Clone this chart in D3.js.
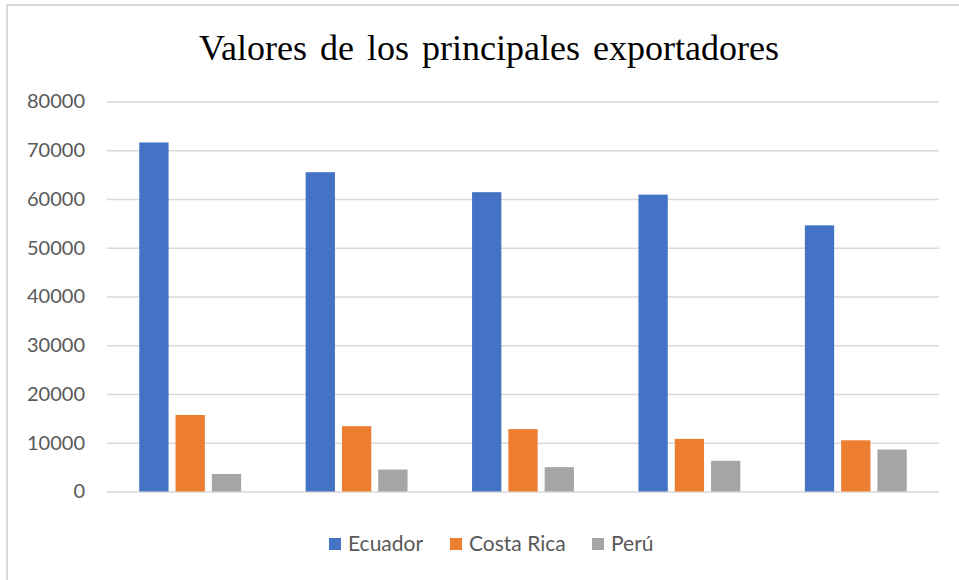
<!DOCTYPE html>
<html>
<head>
<meta charset="utf-8">
<script src="https://cdn.jsdelivr.net/npm/d3@7"></script>
<style>
  body { margin: 0; background: #fff; }
  .axis text { font-family: Lato, "Liberation Sans", sans-serif; font-size: 20px; fill: #595959; }
</style>
</head>
<body>
<script>
// data (x axis has no labels in the original)
var categories = ["1", "2", "3", "4", "5"];
var series = ["Ecuador", "Costa Rica", "Perú"];
var ecuador = [71600, 65500, 61400, 60900, 54600];
var costaRica = [15700, 13400, 12800, 10800, 10500];
var peru = [3600, 4500, 5000, 6300, 8600];
var yTicks = [0, 10000, 20000, 30000, 40000, 50000, 60000, 70000, 80000];
var colors = ["#4472c4", "#ed7d31", "#a5a5a5"];

var W = 959, H = 580;
var margin = {top: 101.5, right: 20, bottom: 88.5, left: 107},
    width = 939 - margin.left,
    height = H - margin.top - margin.bottom;

var svg = d3.select("body").append("svg")
    .attr("width", W)
    .attr("height", H);

// chart frame (cut off on the right and bottom in the original)
svg.append("rect")
    .attr("x", 7).attr("y", 5)
    .attr("width", W + 20).attr("height", H + 20)
    .attr("fill", "none")
    .attr("stroke", "#d9d9d9")
    .attr("stroke-width", 2);

svg.append("text")
    .attr("x", 489)
    .attr("y", 60)
    .attr("text-anchor", "middle")
    .style("font-family", "'Liberation Serif', 'Times New Roman', serif")
    .style("font-size", "36px")
    .style("word-spacing", "4px")
    .attr("fill", "#000")
    .text("Valores de los principales exportadores");

var g = svg.append("g")
    .attr("transform", "translate(" + margin.left + "," + margin.top + ")");

var x0 = d3.scaleBand().domain(categories).range([0, width]).padding(0);
var x1 = d3.scaleBand().domain(series).range([0, x0.bandwidth()])
    .paddingInner(0.193).paddingOuter(0.889);
var y = d3.scaleLinear().domain([0, 80000]).range([height, 0]);

// gridlines + y labels
var yAxis = d3.axisLeft(y).tickValues(yTicks).tickSize(-width).tickPadding(22)
    .tickFormat(d3.format("d"));
g.append("g")
    .attr("class", "axis")
    .call(yAxis)
    .call(function(a) {
        a.select(".domain").remove();
        a.selectAll("line").attr("stroke", "#d9d9d9").attr("stroke-width", 1.5);
    });

var table = categories.map(function(c, i) {
    return {key: c, values: [ecuador[i], costaRica[i], peru[i]]};
});

var groups = g.selectAll(".grp")
    .data(table)
  .enter().append("g")
    .attr("class", "grp")
    .attr("transform", function(d) { return "translate(" + x0(d.key) + ",0)"; });

groups.selectAll("rect")
    .data(function(d) { return d.values.map(function(v, j) { return {s: series[j], v: v, j: j}; }); })
  .enter().append("rect")
    .attr("x", function(d) { return x1(d.s); })
    .attr("width", x1.bandwidth())
    .attr("y", function(d) { return y(d.v); })
    .attr("height", function(d) { return height - y(d.v); })
    .attr("fill", function(d) { return colors[d.j]; });

// legend
var legendX = [329, 450, 592];
var legend = svg.selectAll(".leg")
    .data(series)
  .enter().append("g")
    .attr("class", "leg")
    .attr("transform", function(d, i) { return "translate(" + legendX[i] + ",538)"; });

legend.append("rect")
    .attr("width", 12).attr("height", 12)
    .attr("fill", function(d, i) { return colors[i]; });

legend.append("text")
    .attr("x", 19)
    .attr("y", 13)
    .style("font-family", "Lato, 'Liberation Sans', sans-serif")
    .style("font-size", "21px")
    .attr("fill", "#595959")
    .text(function(d) { return d; });
</script>
</body>
</html>
